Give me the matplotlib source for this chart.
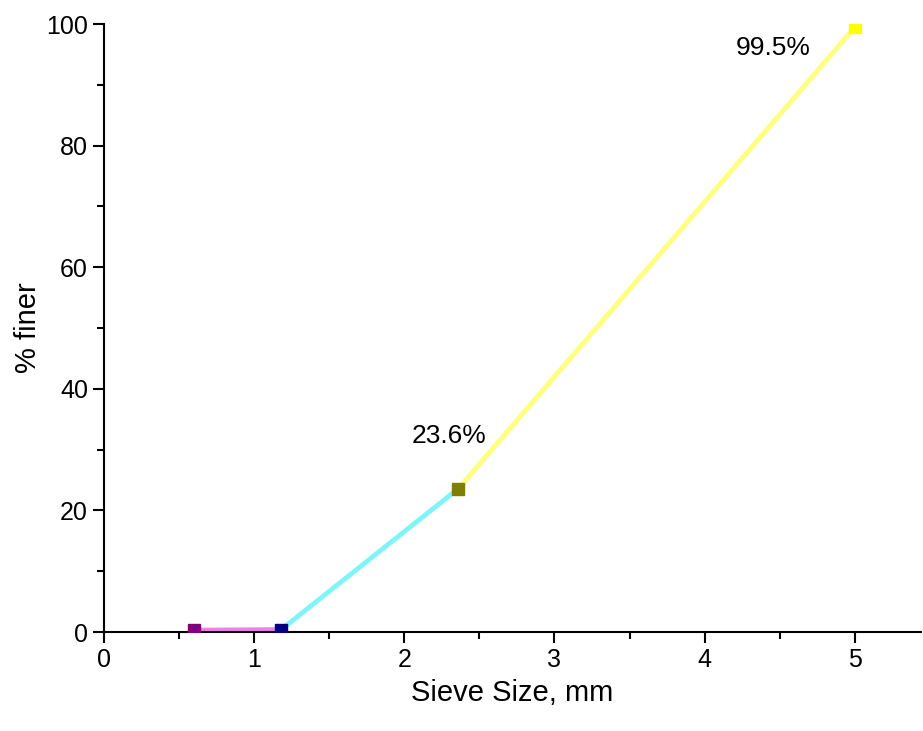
import matplotlib
matplotlib.use("Agg")
import matplotlib.pyplot as plt
from matplotlib.ticker import MultipleLocator

plt.rcParams['font.family'] = ['Liberation Sans', 'DejaVu Sans']

sieve = [0.6, 1.18, 2.36, 5.0]
finer = [0.3, 0.4, 23.6, 99.5]
point_colors = ['#800080', '#000080', '#808000', '#ffff00']
line_colors = ['#f080f0', '#80f4f8', '#ffff80']
labels = ['', '', '23.6%', '99.5%']

fig = plt.figure(figsize=(9.23, 7.31), dpi=100)
ax = fig.add_axes([0.1127, 0.1354, 0.885, 0.8316])

for i in range(len(sieve) - 1):
    ax.plot(sieve[i:i+2], finer[i:i+2], color=line_colors[i], lw=3.5, zorder=2)
for x, y, c in zip(sieve, finer, point_colors):
    ax.plot(x, y, 's', color=c, ms=8, zorder=3)

ax.annotate(labels[2], (sieve[2], finer[2]), xytext=(-34, 38), textcoords='offset points',
            fontsize=19, ha='left', va='center')
ax.annotate(labels[3], (sieve[3], finer[3]), xytext=(-86, -15), textcoords='offset points',
            fontsize=19, ha='left', va='center')

ax.set_xlim(0, 5.44)
ax.set_ylim(0, 100)
ax.spines['top'].set_visible(False)
ax.spines['right'].set_visible(False)
ax.spines['left'].set_linewidth(1.5)
ax.spines['bottom'].set_linewidth(1.5)
ax.xaxis.set_major_locator(MultipleLocator(1))
ax.xaxis.set_minor_locator(MultipleLocator(0.5))
ax.yaxis.set_major_locator(MultipleLocator(20))
ax.yaxis.set_minor_locator(MultipleLocator(10))
ax.tick_params(which='major', length=8, width=1.5, labelsize=18, direction='out')
ax.tick_params(which='minor', length=5, width=1.5, direction='out')
ax.set_xlabel('Sieve Size, mm', fontsize=21, labelpad=5)
ax.set_ylabel('% finer', fontsize=21, labelpad=3)

fig.savefig('out.png', dpi=100)
